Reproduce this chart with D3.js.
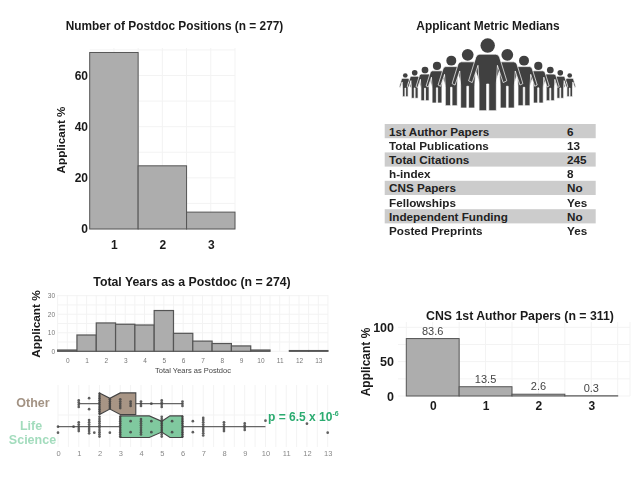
<!DOCTYPE html>
<html><head><meta charset="utf-8">
<script src="https://cdn.jsdelivr.net/npm/d3@7/dist/d3.min.js"></script>
<style>html,body{margin:0;padding:0;background:#fff}svg{display:block;filter:blur(.4px)}text{font-family:"Liberation Sans",Arial,sans-serif}</style>
</head><body><div id="c"></div>
<script>
// ---- data ----
const positionCats=[1,2,3];
const positionVals=[69,24.7,6.6];
const yearCats=[0,1,2,3,4,5,6,7,8,9,10,11,12,13];
const yearVals=[0.7,8.8,15.3,14.6,14.2,22,9.7,5.5,4.2,2.9,0.7,0,0.4,0.4];
const cnsCats=[0,1,2,3];
const cnsVals=[83.6,13.5,2.6,0.3];
const metricNames=["1st Author Papers","Total Publications","Total Citations","h-index","CNS Papers","Fellowships","Independent Funding","Posted Preprints"];
const metricVals=["6","13","245","8","No","Yes","No","Yes"];
const groups=["Other","Life Science"];
// min, q1, notchLow, median, notchHigh, q3, max
const otherBox=[1,2,2,2.5,3,3.75,6];
const lifeBox=[0,3,4.4,5,5.4,6,10];
// [years, number of applicants, side of the line (0 = centred)]
const otherDots=[[1,4,0],[1.5,2,0],[2,10,0],[2.5,5,0],[3,5,0],[3.5,3,0],[4,3,0],[4.5,1,0],[5,4,0],[6,3,0]];
const lifeDots=[[0,1,0],[0,1,1],[0.75,1,0],[1,5,0],[1.5,7,0],[1.75,1,1],[2,10,0],[2.5,1,1],[3,10,0],[3.5,2,0],[4,8,0],[4.5,2,0],[5,10,0],[5.5,2,0],[6,10,0],[6.5,2,0],[7,9,0],[8,5,0],[9,4,0],[10,1,-1],[12,1,-0.5],[13,1,1]];
// ---- people, drawn from the outside in ----
const peopleX=[405.3,569.7,414.7,560.3,425,550.3,437,538.3,451.3,524,467.7,507.3,487.7];
const peopleTop=[73.3,73.3,70.2,70.2,66.8,66.8,62,62,55.9,55.9,49.2,49.2,38.7];
const peopleFoot=[96.7,96.7,98.3,98.3,100.7,100.7,103,103,105.7,105.7,108,108,110.7];

const svg=d3.select("#c").append("svg").attr("width",640).attr("height",477);
const BAR="#adadad",EDGE="#555",GRID="#f3f3f3";
function title(t,x,y,size){svg.append("text").attr("x",x).attr("y",y).attr("text-anchor","middle").attr("dominant-baseline","central").attr("font-weight","bold").attr("font-size",size).attr("fill","#1a1a1a").text(t);}
function yLabel(x,y,size){svg.append("text").attr("transform",`translate(${x},${y}) rotate(-90)`).attr("text-anchor","middle").attr("dominant-baseline","central").attr("font-weight","bold").attr("font-size",size).attr("fill","#1a1a1a").text("Applicant %");}
function styleAxis(g,size,weight,col){g.select(".domain").remove();g.selectAll(".tick line").remove();g.selectAll("text").attr("font-size",size).attr("font-weight",weight).attr("fill",col).style("font-family",'"Liberation Sans",Arial,sans-serif');}
function grid(xs,ys,x0,x1,y0,y1,col){const g=svg.append("g").attr("stroke",col||GRID).attr("stroke-width",1);
 g.selectAll("line.v").data(xs).join("line").attr("class","v").attr("x1",d=>d).attr("x2",d=>d).attr("y1",y0).attr("y2",y1);
 g.selectAll("line.h").data(ys).join("line").attr("class","h").attr("y1",d=>d).attr("y2",d=>d).attr("x1",x0).attr("x2",x1);}
function bars(cats,vals,x,y,sw){svg.append("g").selectAll("rect").data(cats).join("rect")
 .attr("x",d=>x(d-.5)).attr("width",d=>x(d+.5)-x(d-.5)).attr("y",(d,i)=>y(vals[i])).attr("height",(d,i)=>y(0)-y(vals[i]))
 .attr("fill",BAR).attr("stroke",EDGE).attr("stroke-width",sw);}

// ---- top left ----
{const x=d3.scaleLinear().domain([.5,3.5]).range([89.7,235]);const y=d3.scaleLinear().domain([0,60]).range([229,75.5]);
 grid(d3.range(1,3.51,.5).map(x),d3.range(0,71,10).map(y),89.7,235,48,229);
 bars(positionCats,positionVals,x,y,1);
 svg.append("g").attr("transform","translate(0,238)").call(d3.axisBottom(x).tickValues(positionCats).tickFormat(d3.format("d")).tickSize(0).tickPadding(2)).call(g=>styleAxis(g,12,"bold","#1a1a1a"));
 svg.append("g").attr("transform","translate(88,0)").call(d3.axisLeft(y).tickValues([0,20,40,60]).tickSize(0).tickPadding(0)).call(g=>styleAxis(g,12,"bold","#1a1a1a"));
 title("Number of Postdoc Positions (n = 277)",174.5,26,11.85);yLabel(60,140,11.7);}

// ---- table and people ----
title("Applicant Metric Medians",488,26,11.9);
{const body=svg.append("g").attr("fill","#404040").selectAll("g").data(peopleX).join("g")
  .attr("transform",(d,i)=>`translate(${d},${peopleTop[i]}) scale(${peopleFoot[i]-peopleTop[i]})`);
 body.append("circle").attr("cy",.095).attr("r",.1);
 body.append("path").attr("stroke","#fff").attr("stroke-width",.7).attr("vector-effect","non-scaling-stroke")
  .attr("d","M-.11,.215 L.11,.215 Q.15,.215 .165,.26 L.265,.585 L.215,.61 L.135,.37 L.12,.62 L.12,1 L.015,1 L.015,.63 L-.015,.63 L-.015,1 L-.12,1 L-.12,.62 L-.135,.37 L-.215,.61 L-.265,.585 L-.165,.26 Q-.15,.215 -.11,.215 Z");}
{const y=d3.scaleBand().domain(metricNames).range([124,237.6]);
 const g=svg.append("g").selectAll("g").data(metricNames).join("g").attr("transform",d=>`translate(0,${y(d)})`);
 g.append("rect").attr("x",384.7).attr("width",211).attr("height",y.bandwidth()).attr("fill",(d,i)=>i%2?"none":"#cccccc");
 const txt=(sel,x,f)=>sel.append("text").attr("x",x).attr("y",y.bandwidth()/2).attr("dominant-baseline","central").attr("font-weight","bold").attr("font-size",11.7).attr("fill","#222").text(f);
 txt(g,389,d=>d);txt(g,567,(d,i)=>metricVals[i]);}

// ---- histogram ----
{const x=d3.scaleLinear().domain([0,13]).range([67.3,318.3]);const y=d3.scaleLinear().domain([0,30]).range([351.3,295.7]);
 grid(d3.range(-.5,13.6,.5).map(x),d3.range(0,31,5).map(y),58,328,295,351.3);
 bars(yearCats,yearVals,x,y,1.2);
 svg.append("g").attr("transform","translate(0,358.5)").call(d3.axisBottom(x).tickValues(yearCats).tickSize(0).tickPadding(0)).call(g=>styleAxis(g,6.5,"normal","#777"));
 svg.append("g").attr("transform","translate(55,0)").call(d3.axisLeft(y).tickValues([0,10,20,30]).tickSize(0).tickPadding(0)).call(g=>styleAxis(g,6.5,"normal","#777"));
 svg.append("text").attr("x",193).attr("y",370.7).attr("text-anchor","middle").attr("dominant-baseline","central").attr("font-size",7.5).attr("fill","#444").text("Total Years as Postdoc");
 title("Total Years as a Postdoc (n = 274)",192,281.7,12.3);yLabel(36,324,11.8);}

// ---- box plots ----
{const x=d3.scaleLinear().domain([0,13]).range([58,327.7]);const y=d3.scalePoint().domain(groups).range([403.7,426.7]);
 grid(d3.range(0,13.1,.5).map(x),[415],58,327.7,385,447);
 const half=10.8;
 const box=(b,name,fill)=>{const c=y(name),[mn,q1,nl,m,nh,q3,mx]=b,w=half/2;
  svg.append("line").attr("x1",x(mn)).attr("x2",x(mx)).attr("y1",c).attr("y2",c).attr("stroke","#666").attr("stroke-width",1.2);
  const pts=[[q1,-half],[nl,-half],[m,-w],[nh,-half],[q3,-half],[q3,half],[nh,half],[m,w],[nl,half],[q1,half]];
  svg.append("path").attr("d",d3.line().x(d=>x(d[0])).y(d=>c+d[1]).curve(d3.curveLinearClosed)(pts)).attr("fill",fill).attr("stroke","#444").attr("stroke-width",1.1);
  svg.append("line").attr("x1",x(m)).attr("x2",x(m)).attr("y1",c-w).attr("y2",c+w).attr("stroke","#333").attr("stroke-width",1.2);};
 box(otherBox,groups[0],"#a89585");box(lifeBox,groups[1],"#80c99f");
 const dots=(list,name)=>{const c=y(name),pts=[];
  list.forEach(([v,n,s])=>{ if(n===1)pts.push([v,s*6]); else if(n===2){pts.push([v,-5.5],[v,5.5]);} else d3.range(n).forEach(i=>pts.push([v,(i-(n-1)/2)*2.2]));});
  svg.append("g").attr("fill","#444").attr("fill-opacity",.85).selectAll("circle").data(pts).join("circle").attr("cx",d=>x(d[0])).attr("cy",d=>c+d[1]).attr("r",1.35);};
 dots(otherDots,groups[0]);dots(lifeDots,groups[1]);
 svg.append("g").attr("transform","translate(0,450.5)").call(d3.axisBottom(x).tickValues(d3.range(0,14)).tickSize(0).tickPadding(0)).call(g=>styleAxis(g,7.5,"normal","#888"));
 const lab=(t,xx,yy,col)=>svg.append("text").attr("x",xx).attr("y",yy).attr("text-anchor","middle").attr("dominant-baseline","central").attr("font-weight","bold").attr("font-size",12.5).attr("fill",col).text(t);
 lab("Other",33,403,"#a39384");lab("Life",31,425.5,"#a3dcbd");lab("Science",32.5,440,"#a3dcbd");
 const p=svg.append("text").attr("x",268).attr("y",416.5).attr("dominant-baseline","central").attr("font-weight","bold").attr("font-size",12).attr("fill","#2bab70");
 p.append("tspan").text("p = 6.5 x 10");p.append("tspan").attr("dy",-4).attr("font-size",7).text("-6");}

// ---- CNS ----
{const x=d3.scaleLinear().domain([-.5,3.5]).range([406.3,617.7]);const y=d3.scaleLinear().domain([0,100]).range([396,327.3]);
 grid(d3.range(0,3.6,.5).map(x).concat([406.3,630]),d3.range(0,101,25).map(y),398,630,322,396);
 bars(cnsCats,cnsVals,x,y,1);
 svg.append("g").selectAll("text").data(cnsCats).join("text").attr("x",d=>x(d)).attr("y",(d,i)=>y(cnsVals[i])-8).attr("text-anchor","middle").attr("dominant-baseline","central").attr("font-size",11).attr("fill","#444").text((d,i)=>cnsVals[i]);
 svg.append("g").attr("transform","translate(0,401.5)").call(d3.axisBottom(x).tickValues(cnsCats).tickFormat(d3.format("d")).tickSize(0).tickPadding(0)).call(g=>styleAxis(g,12,"bold","#1a1a1a"));
 svg.append("g").attr("transform","translate(394,0)").call(d3.axisLeft(y).tickValues([0,50,100]).tickSize(0).tickPadding(0)).call(g=>styleAxis(g,12.5,"bold","#1a1a1a"));
 title("CNS 1st Author Papers (n = 311)",520,315.7,12.3);yLabel(365.7,362,12);}
</script></body></html>
